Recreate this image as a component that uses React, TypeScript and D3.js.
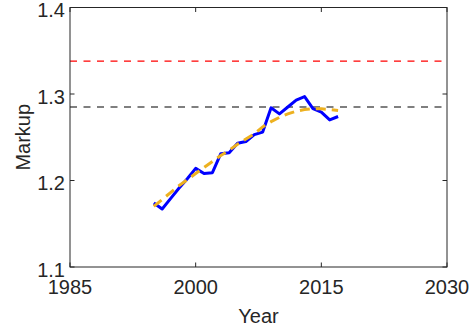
import React from "react";
import * as d3 from "d3";

const years = [1995, 1996, 1997, 1998, 1999, 2000, 2001, 2002, 2003, 2004, 2005, 2006, 2007, 2008, 2009, 2010, 2011, 2012, 2013, 2014, 2015, 2016, 2017];
const markup = [1.174, 1.167, 1.179, 1.191, 1.202, 1.214, 1.208, 1.209, 1.231, 1.232, 1.243, 1.245, 1.253, 1.256, 1.284, 1.277, 1.285, 1.293, 1.297, 1.283, 1.279, 1.270, 1.274];
const trend = [1.170, 1.178, 1.186, 1.194, 1.201, 1.208, 1.215, 1.222, 1.229, 1.235, 1.242, 1.248, 1.254, 1.262, 1.268, 1.273, 1.277, 1.280, 1.282, 1.283, 1.283, 1.282, 1.281];
const redLevel = 1.338;
const blackLevel = 1.285;
const xTicks = [1985, 2000, 2015, 2030];
const yTicks = [1.1, 1.2, 1.3, 1.4];
const xDomain = [1985, 2030];
const yDomain = [1.1, 1.4];

const W = 473, H = 327;
const L = 70, R = 447, T = 7.5, B = 267;
const axisColor = "#262626";
const font = "'Liberation Sans', Arial, sans-serif";

export default function App() {
  const x = d3.scaleLinear().domain(xDomain).range([L, R]);
  const y = d3.scaleLinear().domain(yDomain).range([B, T]);
  const line = d3.line<number>().x((_, i) => x(years[i])).y((d) => y(d));
  const tick = 4.5;
  return (
    <svg width={W} height={H} style={{ position: "absolute", left: 0, top: 0, background: "#fff" }} fontFamily={font}>
      <rect x={0} y={0} width={W} height={H} fill="#fff" />
      <line x1={L} x2={R} y1={y(redLevel)} y2={y(redLevel)} stroke="#ff0000" strokeWidth={1.2} strokeDasharray="7,6.5" />
      <line x1={L} x2={R} y1={y(blackLevel)} y2={y(blackLevel)} stroke="#000" strokeWidth={1.2} strokeDasharray="7,6.5" />
      <path d={line(markup) || ""} fill="none" stroke="#0000ff" strokeWidth={3} strokeLinejoin="round" />
      <path d={line(trend) || ""} fill="none" stroke="#EDB120" strokeWidth={3} strokeDasharray="10,6" />
      <rect x={L} y={T} width={R - L} height={B - T} fill="none" stroke={axisColor} strokeWidth={1} />
      {xTicks.map((t) => (
        <g key={"x" + t}>
          <line x1={x(t)} x2={x(t)} y1={B} y2={B - tick} stroke={axisColor} />
          <line x1={x(t)} x2={x(t)} y1={T} y2={T + tick} stroke={axisColor} />
          <text x={x(t)} y={294} textAnchor="middle" fontSize={20} fill={axisColor}>{t}</text>
        </g>
      ))}
      {yTicks.map((t) => (
        <g key={"y" + t}>
          <line x1={L} x2={L + tick} y1={y(t)} y2={y(t)} stroke={axisColor} />
          <line x1={R} x2={R - tick} y1={y(t)} y2={y(t)} stroke={axisColor} />
          <text x={65} y={y(t) + 9.5} textAnchor="end" fontSize={20} fill={axisColor}>{t.toFixed(1)}</text>
        </g>
      ))}
      <text x={(L + R) / 2} y={323} textAnchor="middle" fontSize={20} fill={axisColor}>Year</text>
      <text transform={`translate(29.5,${(T + B) / 2}) rotate(-90)`} textAnchor="middle" fontSize={20} fill={axisColor}>Markup</text>
    </svg>
  );
}
